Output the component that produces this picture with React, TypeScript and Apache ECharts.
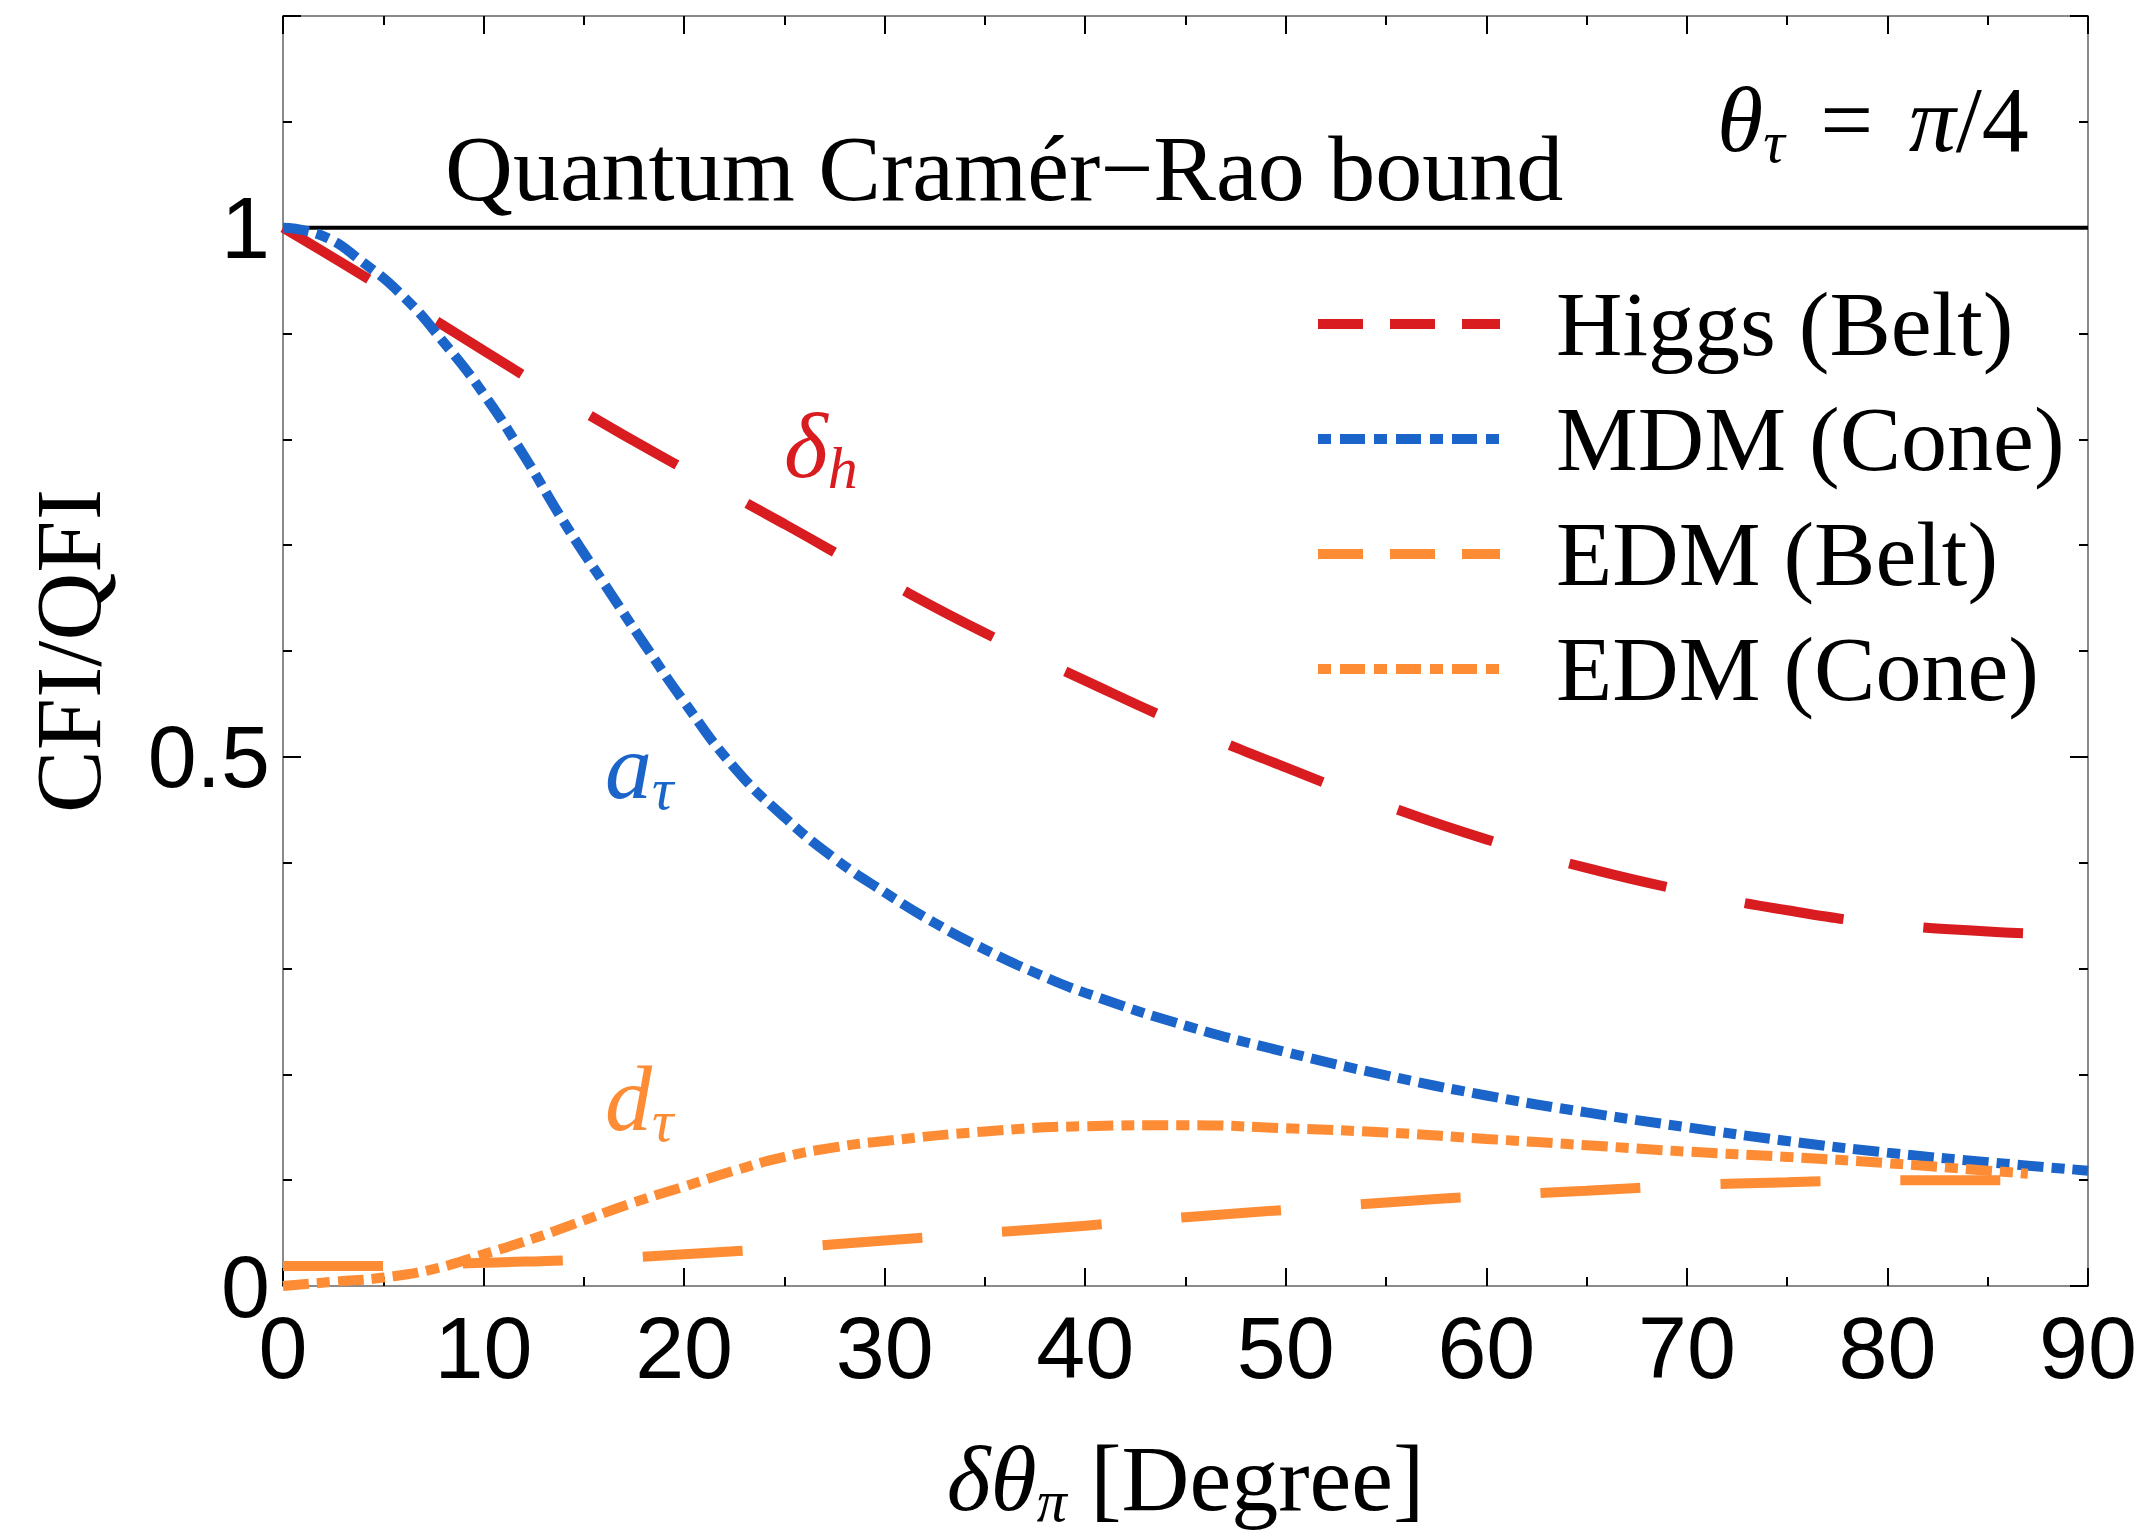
import React, { useEffect, useRef } from 'react';
import * as echarts from 'echarts';

// ---------- data ----------
const xTickValues = [0, 10, 20, 30, 40, 50, 60, 70, 80, 90];
const yTickValues = [0, 0.5, 1];
const yTickLabels = ['0', '0.5', '1'];

const boundX = [0, 90];
const boundY = [1, 1];

const higgsBeltX = [0, 5, 10, 15, 20, 25, 30, 35, 40, 45, 50, 55, 60, 65, 70, 75, 80, 85, 87.5];
const higgsBeltY = [1.0, 0.943, 0.884, 0.826, 0.772, 0.72, 0.667, 0.617, 0.572, 0.529, 0.49, 0.454, 0.422, 0.395, 0.373, 0.355, 0.342, 0.335, 0.333];

const mdmConeX = [0, 2, 4, 6, 8, 10, 12, 14, 16, 18, 20, 22.5, 25, 27.5, 30, 32.5, 35, 37.5, 40, 45, 50, 55, 60, 65, 70, 75, 80, 85, 90];
const mdmConeY = [1.0, 0.992, 0.967, 0.935, 0.892, 0.843, 0.785, 0.722, 0.664, 0.607, 0.552, 0.49, 0.443, 0.404, 0.372, 0.343, 0.318, 0.296, 0.277, 0.246, 0.221, 0.199, 0.18, 0.164, 0.15, 0.137, 0.126, 0.117, 0.109];

const edmBeltX = [0, 5, 10, 15, 20, 25, 30, 35, 40, 45, 50, 55, 60, 65, 70, 75, 80, 86.5];
const edmBeltY = [0.019, 0.019, 0.022, 0.025, 0.03, 0.036, 0.043, 0.05, 0.057, 0.065, 0.072, 0.079, 0.085, 0.09, 0.095, 0.098, 0.1, 0.1];

const edmConeX = [0, 2.5, 5, 7.5, 10, 12.5, 15, 17.5, 20, 22.5, 25, 27.5, 30, 35, 40, 45, 50, 55, 60, 65, 70, 75, 80, 85, 87];
const edmConeY = [0.0, 0.004, 0.008, 0.016, 0.03, 0.045, 0.062, 0.079, 0.094, 0.109, 0.122, 0.131, 0.137, 0.146, 0.151, 0.152, 0.149, 0.145, 0.139, 0.133, 0.127, 0.122, 0.116, 0.109, 0.106];

const seriesNames = ['Higgs (Belt)', 'MDM (Cone)', 'EDM (Belt)', 'EDM (Cone)'];

// ---------- styles ----------
const SERIF = '"Liberation Serif", "Times New Roman", serif';
const SANS = '"Liberation Sans", Arial, sans-serif';
const RED = '#d81c20';
const BLUE = '#1b64c9';
const ORANGE = '#fd8c35';
const FRAME = '#8a8a8a';

const DASH_LONG = [100, 80];
const DASH_DOT = [26, 8, 13, 8];
const LEG_DASH_LONG = [45, 27];
const LEG_DASH_DOT = [13, 9, 25, 9];

const zip = (xs: number[], ys: number[]) => xs.map((x, i) => [x, ys[i]]);

const mathRichZr = (color: string) => ({
  it: { fontFamily: SERIF, fontSize: 94, fontStyle: 'italic', lineHeight: 94, verticalAlign: 'top', fill: color },
  rm: { fontFamily: SERIF, fontSize: 94, lineHeight: 94, verticalAlign: 'top', fill: color },
  eq: { fontFamily: SERIF, fontSize: 94, lineHeight: 94, verticalAlign: 'top', fill: color, padding: [0, 12, 0, 12] },
  sub: { fontFamily: SERIF, fontSize: 60, fontStyle: 'italic', lineHeight: 140, verticalAlign: 'middle', fill: color },
});

const mathRichEc = {
  it: { fontFamily: SERIF, fontSize: 94, fontStyle: 'italic', lineHeight: 94, verticalAlign: 'top', color: '#000' },
  rm: { fontFamily: SERIF, fontSize: 94, lineHeight: 94, verticalAlign: 'top', color: '#000' },
  sub: { fontFamily: SERIF, fontSize: 60, fontStyle: 'italic', lineHeight: 140, verticalAlign: 'middle', color: '#000' },
};

const tickStyle = { color: '#000', width: 2 };

const xBase = {
  type: 'value',
  min: 0,
  max: 90,
  interval: 10,
  axisLine: { show: true, onZero: false, lineStyle: { color: FRAME, width: 2 } },
  axisTick: { show: true, inside: true, length: 18, lineStyle: tickStyle },
  minorTick: { show: true, splitNumber: 2, length: 9, lineStyle: tickStyle },
  splitLine: { show: false },
  minorSplitLine: { show: false },
};

const yBase = {
  type: 'value',
  min: 0,
  max: 1.2,
  interval: 0.5,
  axisLine: { show: true, onZero: false, lineStyle: { color: FRAME, width: 2 } },
  axisTick: { show: true, inside: true, length: 18, lineStyle: tickStyle },
  minorTick: { show: true, splitNumber: 5, length: 9, lineStyle: tickStyle },
  splitLine: { show: false },
  minorSplitLine: { show: false },
};

const curve = (name: string, xs: number[], ys: number[], color: string, dash: number[]) => ({
  name,
  type: 'line',
  data: zip(xs, ys),
  symbol: 'none',
  showSymbol: false,
  smooth: 0.5,
  silent: true,
  z: 3,
  itemStyle: { color },
  lineStyle: { color, width: 10, type: dash, cap: 'butt' },
});

const option: any = {
  animation: false,
  backgroundColor: '#ffffff',
  grid: { left: 283, top: 16, right: 58, bottom: 243, containLabel: false },
  xAxis: [
    {
      ...xBase,
      position: 'bottom',
      axisLabel: {
        show: true,
        margin: 17,
        fontFamily: SANS,
        fontSize: 88,
        color: '#000',
        formatter: (v: number) => (xTickValues.includes(Math.round(v)) ? String(Math.round(v)) : ''),
      },
      name: '{it|δθ}{sub|π}{rm| [Degree]}',
      nameLocation: 'middle',
      nameGap: 145,
      nameTextStyle: { rich: mathRichEc, fontFamily: SERIF, fontSize: 94, color: '#000' },
    },
    { ...xBase, position: 'top', axisLabel: { show: false } },
  ],
  yAxis: [
    {
      ...yBase,
      position: 'left',
      axisLabel: {
        show: true,
        margin: 13,
        fontFamily: SANS,
        fontSize: 88,
        color: '#000',
        formatter: (v: number) => {
          const i = yTickValues.findIndex((t) => Math.abs(t - v) < 1e-6);
          return i >= 0 ? yTickLabels[i] : '';
        },
      },
      name: 'CFI/QFI',
      nameLocation: 'middle',
      nameGap: 168,
      nameTextStyle: { fontFamily: SERIF, fontSize: 94, color: '#000' },
    },
    { ...yBase, position: 'right', axisLabel: { show: false } },
  ],
  legend: {
    orient: 'vertical',
    left: 1313,
    top: 278,
    padding: 0,
    itemWidth: 182,
    itemHeight: 10,
    itemGap: 23,
    selectedMode: false,
    textStyle: { fontFamily: SERIF, fontSize: 92, color: '#000', padding: [0, 0, 0, 51] },
    data: [
      { name: seriesNames[0], lineStyle: { color: RED, width: 10, type: LEG_DASH_LONG } },
      { name: seriesNames[1], lineStyle: { color: BLUE, width: 10, type: LEG_DASH_DOT } },
      { name: seriesNames[2], lineStyle: { color: ORANGE, width: 10, type: LEG_DASH_LONG } },
      { name: seriesNames[3], lineStyle: { color: ORANGE, width: 10, type: LEG_DASH_DOT } },
    ],
  },
  graphic: [
    {
      type: 'text',
      x: 445,
      y: 168,
      silent: true,
      style: {
        text: 'Quantum Cramér−Rao bound',
        fontFamily: SERIF,
        fontSize: 94,
        fill: '#000',
        align: 'left',
        verticalAlign: 'middle',
      },
    },
    {
      type: 'text',
      x: 1717,
      y: 72,
      silent: true,
      style: {
        text: '{it|θ}{sub|τ}{eq| = }{it|π}{rm|/4}',
        rich: mathRichZr('#000'),
        fontFamily: SERIF,
        fontSize: 94,
        fill: '#000',
        align: 'left',
        verticalAlign: 'top',
      },
    },
    {
      type: 'text',
      x: 784,
      y: 398,
      silent: true,
      style: {
        text: '{it|δ}{sub|h}',
        rich: mathRichZr(RED),
        fontFamily: SERIF,
        fontSize: 94,
        fill: RED,
        align: 'left',
        verticalAlign: 'top',
      },
    },
    {
      type: 'text',
      x: 605,
      y: 719,
      silent: true,
      style: {
        text: '{it|a}{sub|τ}',
        rich: mathRichZr(BLUE),
        fontFamily: SERIF,
        fontSize: 94,
        fill: BLUE,
        align: 'left',
        verticalAlign: 'top',
      },
    },
    {
      type: 'text',
      x: 605,
      y: 1051,
      silent: true,
      style: {
        text: '{it|d}{sub|τ}',
        rich: mathRichZr(ORANGE),
        fontFamily: SERIF,
        fontSize: 94,
        fill: ORANGE,
        align: 'left',
        verticalAlign: 'top',
      },
    },
  ],
  series: [
    {
      name: 'Quantum Cramér−Rao bound',
      type: 'line',
      data: zip(boundX, boundY),
      symbol: 'none',
      showSymbol: false,
      silent: true,
      z: 2,
      lineStyle: { color: '#000', width: 4, type: 'solid' },
    },
    curve(seriesNames[0], higgsBeltX, higgsBeltY, RED, DASH_LONG),
    curve(seriesNames[1], mdmConeX, mdmConeY, BLUE, DASH_DOT),
    curve(seriesNames[2], edmBeltX, edmBeltY, ORANGE, DASH_LONG),
    curve(seriesNames[3], edmConeX, edmConeY, ORANGE, DASH_DOT),
  ],
};

export default function App() {
  const ref = useRef<HTMLDivElement>(null);
  useEffect(() => {
    if (!ref.current) return;
    const chart = echarts.init(ref.current, null, { renderer: 'svg' });
    chart.setOption(option);
    return () => chart.dispose();
  }, []);
  return (
    <div
      ref={ref}
      style={{ position: 'absolute', left: 0, top: 0, width: 2146, height: 1536, background: '#ffffff' }}
    />
  );
}
